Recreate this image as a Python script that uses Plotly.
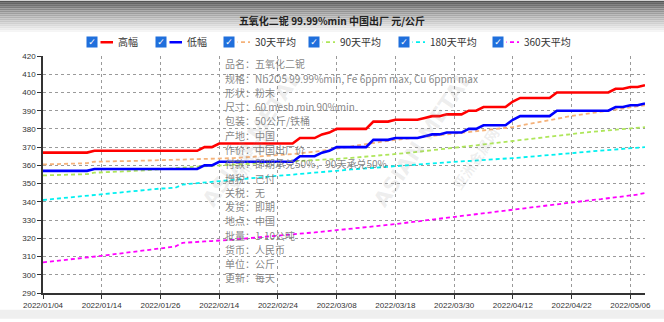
import plotly.graph_objects as go

# ---------------- data ----------------
dates = [
    "2022/01/04", "2022/01/05", "2022/01/06", "2022/01/07", "2022/01/10", "2022/01/11", "2022/01/12", "2022/01/13",
    "2022/01/14", "2022/01/17", "2022/01/18", "2022/01/19", "2022/01/20", "2022/01/21", "2022/01/24", "2022/01/25",
    "2022/01/26", "2022/01/27", "2022/01/28", "2022/02/07", "2022/02/08", "2022/02/09", "2022/02/10", "2022/02/11",
    "2022/02/14", "2022/02/15", "2022/02/16", "2022/02/17", "2022/02/18", "2022/02/21", "2022/02/22", "2022/02/23",
    "2022/02/24", "2022/02/25", "2022/02/28", "2022/03/01", "2022/03/02", "2022/03/03", "2022/03/04", "2022/03/07",
    "2022/03/08", "2022/03/09", "2022/03/10", "2022/03/11", "2022/03/14", "2022/03/15", "2022/03/16", "2022/03/17",
    "2022/03/18", "2022/03/21", "2022/03/22", "2022/03/23", "2022/03/24", "2022/03/25", "2022/03/28", "2022/03/29",
    "2022/03/30", "2022/03/31", "2022/04/01", "2022/04/02", "2022/04/06", "2022/04/07", "2022/04/08", "2022/04/11",
    "2022/04/12", "2022/04/13", "2022/04/14", "2022/04/15", "2022/04/18", "2022/04/19", "2022/04/20", "2022/04/21",
    "2022/04/22", "2022/04/24", "2022/04/25", "2022/04/26", "2022/04/27", "2022/04/28", "2022/04/29", "2022/05/05",
    "2022/05/06", "2022/05/07", "2022/05/09",
]

tick_labels = ["2022/01/04", "2022/01/14", "2022/01/26", "2022/02/14", "2022/02/24", "2022/03/08",
               "2022/03/18", "2022/03/30", "2022/04/12", "2022/04/22", "2022/05/06"]

high = [
    367, 367, 367, 367, 367, 367, 367, 368, 368, 368,
    368, 368, 368, 368, 368, 368, 368, 368, 368, 368,
    368, 368, 370, 370, 372, 372, 372, 372, 372, 372,
    372, 372, 372, 372, 372, 375, 375, 375, 377, 378,
    380, 380, 380, 380, 380, 384, 384, 384, 385, 385,
    385, 385, 386, 387, 387, 388, 388, 388, 390, 390,
    392, 392, 392, 392, 395, 397, 397, 397, 397, 397,
    400, 400, 400, 400, 400, 400, 400, 400, 402, 402,
    403, 403, 404,
]

low = [
    357, 357, 357, 357, 357, 357, 357, 358, 358, 358,
    358, 358, 358, 358, 358, 358, 358, 358, 358, 358,
    358, 358, 360, 360, 362, 362, 362, 362, 362, 362,
    362, 362, 362, 362, 362, 365, 365, 365, 367, 368,
    370, 370, 370, 370, 370, 374, 374, 374, 375, 375,
    375, 375, 376, 377, 377, 378, 378, 378, 380, 380,
    382, 382, 382, 382, 385, 387, 387, 387, 387, 387,
    390, 390, 390, 390, 390, 390, 390, 390, 392, 392,
    393, 393, 394,
]

avg30 = [
    360.5, 360.6, 360.7, 360.8, 360.9, 361.0, 361.2, 362.0, 362.2, 362.2,
    362.3, 362.3, 362.4, 362.5, 362.5, 362.6, 362.7, 362.8, 362.8, 362.9,
    363.0, 363.1, 363.2, 363.4, 363.6, 363.8, 364.0, 364.3, 364.5, 364.7,
    365.0, 365.3, 365.6, 365.9, 366.2, 366.5, 367.0, 367.5, 368.0, 368.5,
    369.0, 369.7, 370.4, 371.1, 371.8, 372.5, 373.0, 373.5, 374.0, 374.5,
    375.0, 375.4, 375.8, 376.2, 376.6, 377.0, 377.4, 377.8, 378.2, 378.6,
    379.0, 379.5, 380.0, 380.5, 381.0, 381.8, 382.6, 383.4, 384.2, 385.0,
    385.7, 386.4, 387.1, 387.7, 388.3, 388.8, 389.3, 389.8, 390.5, 391.2,
    391.8, 392.4, 393.0,
]

avg90 = [
    354.5, 354.6, 354.7, 354.8, 354.9, 355.0, 355.2, 356.0, 356.1, 356.3,
    356.5, 356.7, 356.9, 357.1, 357.3, 357.6, 357.9, 358.2, 358.5, 358.8,
    359.1, 359.4, 359.6, 359.8, 360.0, 360.2, 360.4, 360.6, 360.8, 361.1,
    361.4, 361.6, 361.8, 362.0, 362.2, 362.4, 362.6, 362.8, 363.0, 363.2,
    363.5, 363.8, 364.1, 364.4, 364.7, 365.0, 365.4, 365.8, 366.2, 366.6,
    367.0, 367.4, 367.8, 368.2, 368.6, 369.0, 369.5, 370.0, 370.5, 371.0,
    371.5, 372.0, 372.5, 373.0, 373.5, 374.0, 374.5, 375.0, 375.5, 376.0,
    376.5, 376.9, 377.3, 377.7, 378.1, 378.5, 378.9, 379.3, 379.7, 380.0,
    380.4, 380.7, 381.0,
]

avg180 = [
    341.0, 341.4, 341.8, 342.2, 342.6, 343.0, 343.4, 344.0, 344.4, 344.8,
    345.2, 345.5, 345.8, 346.2, 346.6, 347.0, 347.3, 347.5, 347.7, 349.5,
    349.9, 350.2, 350.5, 350.8, 351.1, 351.5, 351.9, 352.3, 352.7, 353.1,
    353.5, 353.9, 354.3, 354.6, 354.9, 355.3, 355.6, 356.0, 356.3, 356.7,
    357.0, 357.4, 357.8, 358.1, 358.4, 358.8, 359.1, 359.5, 359.8, 360.2,
    360.5, 360.8, 361.1, 361.3, 361.6, 361.8, 362.0, 362.2, 362.4, 362.6,
    362.8, 363.1, 363.4, 363.7, 364.0, 364.3, 364.6, 365.0, 365.3, 365.7,
    366.0, 366.4, 366.7, 367.1, 367.4, 367.8, 368.1, 368.4, 368.8, 369.1,
    369.4, 369.7, 370.0,
]

avg360 = [
    306.8, 307.2, 307.7, 308.1, 308.6, 309.0, 309.5, 309.9, 310.4, 310.9,
    311.4, 311.9, 312.4, 312.9, 313.4, 313.9, 314.4, 315.0, 315.5, 317.5,
    317.9, 318.1, 318.3, 318.5, 318.7, 318.9, 319.3, 319.7, 320.1, 320.5,
    320.9, 321.3, 321.6, 321.9, 322.3, 322.6, 322.9, 323.2, 323.6, 323.9,
    324.2, 324.6, 325.1, 325.5, 326.0, 326.4, 326.9, 327.3, 327.8, 328.3,
    328.8, 329.3, 329.8, 330.3, 330.8, 331.3, 331.8, 332.3, 332.7, 333.2,
    333.6, 334.1, 334.5, 335.0, 335.5, 336.0, 336.6, 337.1, 337.7, 338.2,
    338.7, 339.3, 339.8, 340.2, 340.7, 341.1, 341.5, 342.0, 342.4, 342.9,
    343.3, 344.0, 344.8,
]

series_names = ["高幅", "低幅", "30天平均", "90天平均", "180天平均", "360天平均"]

info_labels = ["品名：", "规格：", "形状：", "尺寸：", "包装：", "产地：", "作价：", "付款：",
               "增税：", "关税：", "发货：", "地点：", "批量：", "货币：", "单位：", "更新："]
info_values = ["五氧化二铌", "Nb2O5 99.99%min, Fe 6ppm max, Cu 6ppm max", "粉末", "60 mesh min 90%min",
               "50公斤/铁桶", "中国", "中国出厂价", "即期承兑50%，90天承兑50%", "已付", "无", "即期",
               "中国", "1-10公吨", "人民币", "公斤", "每天"]

title_text = "五氧化二铌 99.99%min 中国出厂 元/公斤"

# ---------------- layout geometry ----------------
W, H = 664, 322
ML, MR, MT, MB = 43, 19, 56, 26
PW, PH = W - ML - MR, H - MT - MB
CJK = "Noto Sans CJK SC, Microsoft YaHei, sans-serif"


def px_x(px):
    return (px - ML) / PW


def px_y(py):
    return (H - MB - py) / PH


styles = [
    dict(color="#FF0000", width=2.6, dash="solid"),
    dict(color="#0000FF", width=2.6, dash="solid"),
    dict(color="#F5B27A", width=1.8, dash="4px,3px"),
    dict(color="#AEE65A", width=1.8, dash="4px,3px"),
    dict(color="#00F0F0", width=1.8, dash="4px,3px"),
    dict(color="#FF00FF", width=1.8, dash="4px,3px"),
]
values = [high, low, avg30, avg90, avg180, avg360]
legend_widths = [24, 23, 40, 45, 49, 60]
leg_x0 = 78
leg_y = 42

fig = go.Figure()
# add in reverse so the high/low lines are drawn on top; legend order reversed back
for k in reversed(range(6)):
    fig.add_trace(go.Scatter(
        x=dates, y=values[k], name=series_names[k], mode="lines",
        line=dict(color=styles[k]["color"], width=styles[k]["width"], dash=styles[k]["dash"]),
        legendwidth=legend_widths[k],
    ))

shapes = []
# gradient header
for py in range(0, 34, 2):
    t = min(1.0, py / 32.0)
    g = int(85 + (255 - 85) * (t ** 0.85))
    shapes.append(dict(type="rect", xref="paper", yref="paper", layer="below",
                       x0=px_x(0), x1=px_x(W), y0=px_y(py + 2), y1=px_y(py),
                       fillcolor=f"rgb({g},{g},{g})", line=dict(width=0)))
# bottom grey strip
shapes.append(dict(type="rect", xref="paper", yref="paper", layer="below",
                   x0=px_x(0), x1=px_x(W), y0=px_y(H), y1=px_y(313),
                   fillcolor="#efefef", line=dict(width=0)))

annotations = []
# info panel text
info_font = dict(family=CJK, size=10, color="rgba(110,110,110,0.85)")
for j, (lab, val) in enumerate(zip(info_labels, info_values)):
    yy = 64 + j * 14.45
    annotations.append(dict(xref="paper", yref="paper", x=px_x(222.5), y=px_y(yy), text=lab,
                            showarrow=False, xanchor="left", yanchor="middle", font=info_font))
    annotations.append(dict(xref="paper", yref="paper", x=px_x(253), y=px_y(yy), text=val,
                            showarrow=False, xanchor="left", yanchor="middle", font=info_font))

# watermarks
for (cx, cy, txt, sz) in [(195, 140, "ASIAN METAL", 21), (222, 160, "亚洲金属网", 14),
                          (480, 140, "ASIAN METAL", 21), (505, 160, "亚洲金属网", 14)]:
    annotations.append(dict(xref="paper", yref="paper", x=px_x(cx), y=px_y(cy), text=txt,
                            showarrow=False, textangle=-56,
                            font=dict(family="DejaVu Sans, Noto Sans CJK SC", size=sz,
                                      color="rgba(150,150,150,0.16)", weight=700)))

# legend checkboxes (cover the left part of each legend line, then the checkbox)
o = leg_x0
for k in range(6):
    annotations.append(dict(xref="paper", yref="paper", x=px_x(o + 3), y=px_y(leg_y), text=" ",
                            showarrow=False, xanchor="left", yanchor="middle",
                            width=18, height=10, bgcolor="white", borderpad=0,
                            font=dict(size=8, color="white")))
    annotations.append(dict(xref="paper", yref="paper", x=px_x(o + 14), y=px_y(leg_y), text="✓",
                            showarrow=False, xanchor="center", yanchor="middle",
                            width=10, height=10, bgcolor="#1f6fdc", borderpad=0,
                            font=dict(family="DejaVu Sans", size=9, color="white")))
    o += 45 + legend_widths[k]

fig.update_layout(
    width=W, height=H,
    margin=dict(l=ML, r=MR, t=MT, b=MB),
    paper_bgcolor="white", plot_bgcolor="white",
    title=dict(text=title_text, x=0.5, xanchor="center", y=1 - 21 / H, yanchor="middle",
               font=dict(family=CJK, size=10, color="#222", weight=700)),
    showlegend=True,
    legend=dict(orientation="h", traceorder="reversed", x=px_x(leg_x0), xanchor="left",
                y=px_y(leg_y), yanchor="middle", font=dict(family=CJK, size=10, color="#333"),
                bgcolor="rgba(0,0,0,0)", itemwidth=30, itemclick=False, itemdoubleclick=False),
    xaxis=dict(type="category", categoryorder="array", categoryarray=dates,
               range=[0, len(dates) - 1], tickmode="array", tickvals=tick_labels, ticktext=tick_labels,
               showgrid=True, gridcolor="#9a9a9a", griddash="dot", gridwidth=1,
               showline=True, linecolor="#333", linewidth=1.5, ticks="outside", ticklen=4,
               tickcolor="#333", tickfont=dict(family="Liberation Sans, Arial", size=8, color="#333"),
               zeroline=False, tickangle=0),
    yaxis=dict(range=[290, 420], tick0=290, dtick=10, showgrid=True, gridcolor="#9a9a9a",
               griddash="dot", gridwidth=1, showline=True, linecolor="#333", linewidth=1.5,
               ticks="outside", ticklen=4, tickcolor="#333",
               tickfont=dict(family="Liberation Sans, Arial", size=8, color="#333"), zeroline=False),
    shapes=shapes,
    annotations=annotations,
    hovermode=False,
)

fig.write_html("out.html")
